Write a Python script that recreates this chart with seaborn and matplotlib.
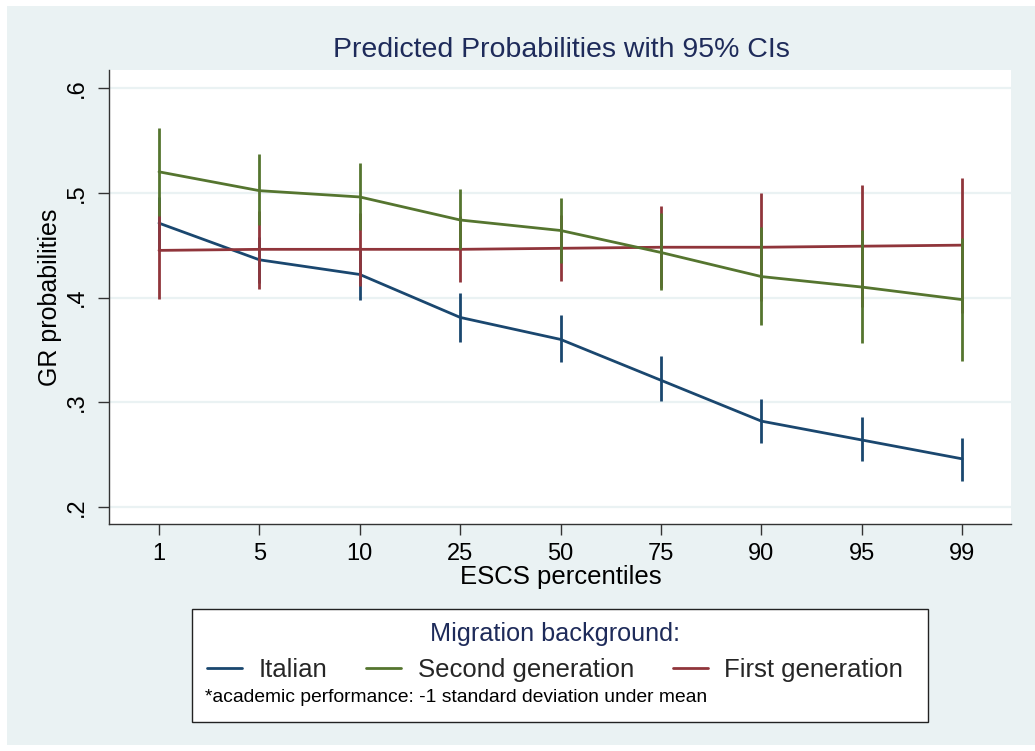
import matplotlib
matplotlib.use("Agg")
import matplotlib.pyplot as plt
from matplotlib.patches import Rectangle
from matplotlib.lines import Line2D
import seaborn as sns
import pandas as pd
import numpy as np

# ---- data ----
percentiles = ["1", "5", "10", "25", "50", "75", "90", "95", "99"]
groups = ["Italian", "Second generation", "First generation"]

italian = [0.471, 0.436, 0.422, 0.381, 0.360, 0.321, 0.282, 0.264, 0.246]
italian_lo = [0.446, 0.414, 0.398, 0.358, 0.338, 0.301, 0.261, 0.244, 0.225]
italian_hi = [0.496, 0.458, 0.445, 0.404, 0.383, 0.344, 0.303, 0.286, 0.266]

second = [0.520, 0.502, 0.496, 0.474, 0.464, 0.443, 0.420, 0.410, 0.398]
second_lo = [0.478, 0.469, 0.464, 0.446, 0.433, 0.407, 0.374, 0.357, 0.339]
second_hi = [0.562, 0.537, 0.528, 0.504, 0.495, 0.481, 0.467, 0.464, 0.457]

first = [0.445, 0.446, 0.446, 0.446, 0.447, 0.448, 0.448, 0.449, 0.450]
first_lo = [0.399, 0.408, 0.411, 0.415, 0.416, 0.409, 0.397, 0.391, 0.385]
first_hi = [0.490, 0.483, 0.481, 0.478, 0.479, 0.487, 0.500, 0.507, 0.514]

yticks = [0.2, 0.3, 0.4, 0.5, 0.6]
ytick_labels = [".2", ".3", ".4", ".5", ".6"]

colors = {"Italian": "#1a476f", "Second generation": "#55752f", "First generation": "#90353b"}

# ---- frame ----
rows = []
for g, m, lo, hi in [("Italian", italian, italian_lo, italian_hi),
                     ("Second generation", second, second_lo, second_hi),
                     ("First generation", first, first_lo, first_hi)]:
    for i, p in enumerate(percentiles):
        rows.append({"group": g, "pos": i, "pct": p, "prob": m[i], "lo": lo[i], "hi": hi[i]})
df = pd.DataFrame(rows)

sns.set_theme(style="white")
plt.rcParams["font.family"] = ["Liberation Sans", "DejaVu Sans"]

W, H = 1035, 751
fig = plt.figure(figsize=(W / 100, H / 100), dpi=100, facecolor="white")
# light background panel
fig.patches.append(Rectangle((7 / W, 1 - 745 / H), (W - 7) / W, (745 - 6) / H,
                             transform=fig.transFigure, facecolor="#eaf2f3",
                             edgecolor="none", zorder=-10))

ax = fig.add_axes([109 / W, 1 - 524 / H, (1011 - 109) / W, (524 - 70) / H])
ax.set_facecolor("white")

# gridlines
for y in yticks:
    ax.axhline(y, color="#eaf2f3", lw=1.6, zorder=0)

draw_order = ["Italian", "First generation", "Second generation"]
for k, g in enumerate(draw_order):
    sub = df[df.group == g]
    ax.vlines(sub["pos"], sub["lo"], sub["hi"], color=colors[g], lw=2.0, zorder=2 + k)
    sns.lineplot(data=sub, x="pos", y="prob", color=colors[g], lw=2.0, ax=ax,
                 legend=False, zorder=2 + k, estimator=None, sort=False)

ax.set_xlim(-0.498, 8.486)
ax.set_ylim(0.1838, 0.6172)
ax.set_xticks(range(len(percentiles)))
ax.set_xticklabels(percentiles)
ax.set_yticks(yticks)
ax.set_yticklabels(ytick_labels, rotation=90, va="center")

for s in ["top", "right"]:
    ax.spines[s].set_visible(False)
for s in ["left", "bottom"]:
    ax.spines[s].set_color("#333333")
    ax.spines[s].set_linewidth(1.0)

ax.tick_params(axis="both", which="major", direction="out", length=8, width=1.0,
               color="#333333", labelsize=17, labelcolor="black", pad=6)
ax.tick_params(axis="x", bottom=True, pad=6)
ax.tick_params(axis="y", left=True, pad=7)

ax.set_xlabel("ESCS percentiles", fontsize=18.5, color="black", labelpad=0)
ax.set_ylabel("GR probabilities", fontsize=18, color="black", labelpad=8)
ax.xaxis.set_label_coords((561 - 109) / (1011 - 109), -(565 - 524) / (524 - 70))
ax.yaxis.set_label_coords(-(109 - 62) / (1011 - 109), (524 - 297) / (524 - 70))

fig.text(561 / W, 1 - 50 / H, "Predicted Probabilities with 95% CIs",
         ha="center", va="center", fontsize=20.5, color="#1e2b5a")

# legend box
fig.patches.append(Rectangle((192 / W, 1 - 722 / H), (928 - 192) / W, (722 - 609) / H,
                             transform=fig.transFigure, facecolor="white",
                             edgecolor="#222222", lw=1.0, zorder=5))
handles = [Line2D([], [], color=colors[g], lw=2.0) for g in groups]
leg = fig.legend(handles, groups, ncol=3, loc="center", frameon=False,
                 bbox_to_anchor=(555 / W, 1 - 652 / H), fontsize=18.5,
                 title="Migration background:", title_fontsize=18.2,
                 handlelength=1.36, handletextpad=0.66, columnspacing=1.5,
                 borderpad=0.0, labelspacing=0.5)
leg.get_title().set_color("#1e2b5a")
leg.set_zorder(6)
fig.text(205 / W, 1 - 697 / H, "*academic performance: -1 standard deviation under mean",
         ha="left", va="center", fontsize=13.9, color="black", zorder=7)

fig.savefig("out.png", dpi=100, facecolor="white")
